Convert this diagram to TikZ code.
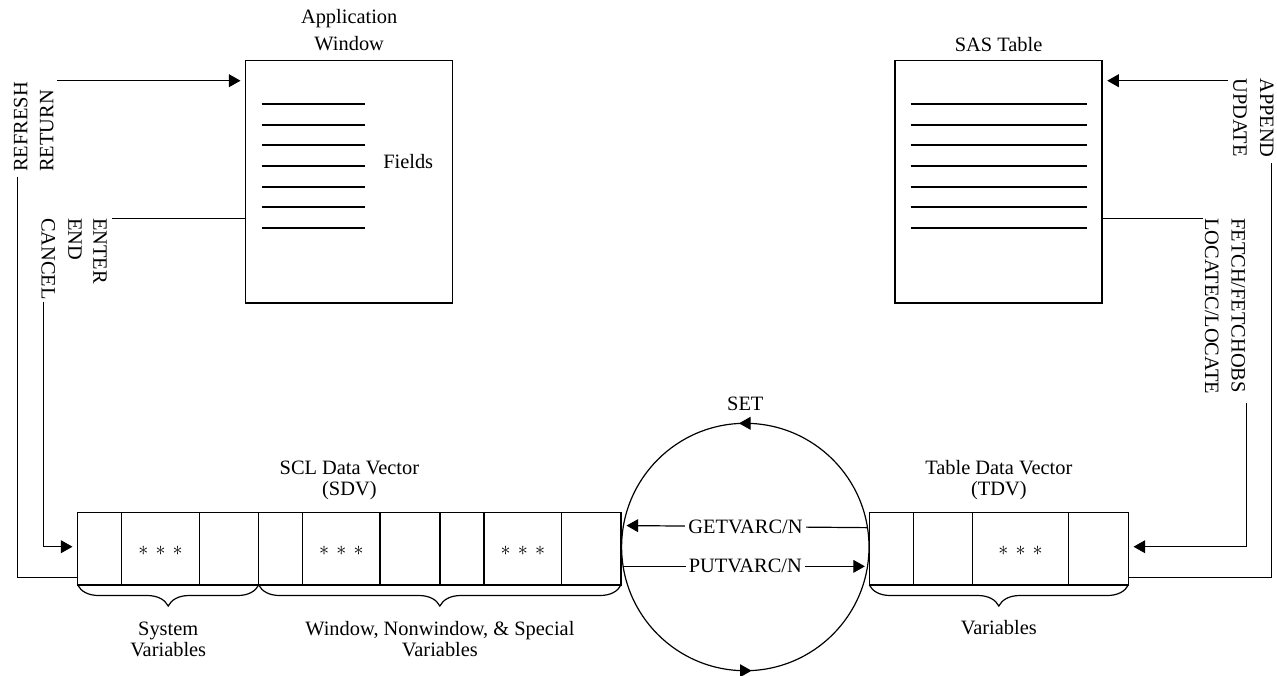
\documentclass[tikz,border=0pt]{standalone}
\usepackage{fontspec}
\setmainfont{Liberation Serif}
\usetikzlibrary{arrows.meta,decorations.pathreplacing,calc}
\newcommand{\astrow}{$\ast$\hspace{3.6pt}$\ast$\hspace{3.6pt}$\ast$}
\begin{document}
\begin{tikzpicture}[x=0.5pt,y=-0.5pt,
  every node/.style={font=\fontsize{10.2}{13.7}\selectfont, inner sep=0pt, outer sep=0pt},
  wire/.style={line width=0.6pt},
  arr/.style={wire, -{Triangle[length=5.8pt,width=6.4pt]}, shorten >=2.6pt},
  boxst/.style={draw, line width=0.6pt, rectangle},
  fieldline/.style={line width=0.85pt},
  brc/.style={line width=0.6pt, decorate, decoration={brace, amplitude=10.5pt}},
  tight/.style={font=\fontsize{10.2}{10.85}\selectfont},
  onwire/.style={fill=white, inner xsep=1.5pt, inner ysep=0pt}
]
\useasboundingbox (0,0) rectangle (1277,675);

% ---- main boxes
\node[boxst, minimum width=103.5pt, minimum height=121.35pt] (appwin) at (349.2,181.65) {};
\node[boxst, minimum width=103.5pt, minimum height=121.35pt] (sastab) at (998.5,181.65) {};
\node[boxst, minimum width=271.65pt, minimum height=36.15pt] (sdv) at (349.35,548.85) {};
\node[boxst, minimum width=129.5pt, minimum height=36.15pt] (tdv) at (998.8,548.85) {};
\node[circle, draw, line width=0.6pt, minimum size=123.7pt] (loop) at (745.3,547) {};

% ---- field lines
\foreach \y in {104.3,124.7,145.3,166,186.7,207.3,228.3} {
  \draw[fieldline] (261.7,\y) -- (365,\y);
  \draw[fieldline] (910.7,\y) -- (1086.7,\y);
}

% ---- cells
\foreach \x in {121.7,199.3,258.7,302.7,380,440,484,561.7}
  \draw[wire] (\x,512.7) -- (\x,585);
\foreach \x in {913.3,972.7,1068.3}
  \draw[wire] (\x,512.7) -- (\x,585);
\node (ast1) at (160.5,550.7) {\astrow};
\node (ast2) at (341.4,550.7) {\astrow};
\node (ast3) at (522.9,550.7) {\astrow};
\node (ast4) at (1020.5,550.7) {\astrow};

% ---- braces
\draw[brc] (258.7,585) -- (sdv.south west);
\draw[brc] (sdv.south east) -- (258.7,585);
\draw[brc] (tdv.south east) -- (tdv.south west);

% ---- labels (base anchor = baseline of the last line)
\node[anchor=base, align=center] (awlbl) at (349.2,50.7) {Application\\Window};
\node[anchor=base] (saslbl) at (998.5,51) {SAS Table};
\node[anchor=base west] (fields) at (383.3,168.3) {Fields};
\node[anchor=base, align=center, tight] (sdvlbl) at (349.35,495.7) {SCL Data Vector\\(SDV)};
\node[anchor=base, align=center, tight] (tdvlbl) at (998.8,495.7) {Table Data Vector\\(TDV)};
\node[anchor=base] (setlbl) at (745.3,410) {SET};
\node[anchor=base, align=center, tight] (syslbl) at (168.2,656.7) {System\\Variables};
\node[anchor=base, align=center, tight] (wnslbl) at (439.9,656.7) {Window, Nonwindow, \& Special\\Variables};
\node[anchor=base] (varlbl) at (998.8,634) {Variables};

% ---- rotated labels
\node[rotate=90, anchor=base west] (refresh) at (27.3,171.7) {REFRESH};
\node[rotate=90, anchor=base west] (return) at (53.3,171.7) {RETURN};
\node[rotate=-90, anchor=base west] (enter) at (93.3,218.3) {ENTER};
\node[rotate=-90, anchor=base west] (endlbl) at (68.3,218.3) {END};
\node[rotate=-90, anchor=base west] (cancel) at (41.7,218.3) {CANCEL};
\node[rotate=-90, anchor=base west] (update) at (1233.3,78.3) {UPDATE};
\node[rotate=-90, anchor=base west] (append) at (1260,78.3) {APPEND};
\node[rotate=-90, anchor=base west] (fetch) at (1231.7,218.3) {FETCH/FETCHOBS};
\node[rotate=-90, anchor=base west] (locate) at (1205,218.3) {LOCATEC/LOCATE};

% ---- connector ends
\coordinate (refreshend) at (17.7,176.7);
\coordinate (returnend) at (57.3,80.7);
\coordinate (enterend) at (112.3,218.3);
\coordinate (cancelend) at (43.3,301.7);
\coordinate (updateend) at (1228.3,80.7);
\coordinate (appendend) at (1271.7,163);
\coordinate (locateend) at (1202.7,218.3);
\coordinate (fetchend) at (1246.7,403);

% ---- connectors left
\draw[wire] (refreshend) |- ([yshift=3.85pt]sdv.south west);
\draw[arr] (returnend) -- (returnend -| appwin.west);
\draw[wire] (appwin.west |- enterend) -- (enterend);
\draw[arr] (cancelend) |- ([yshift=1.07pt]sdv.west);

% ---- connectors right
\draw[arr] (updateend) -- (updateend -| sastab.east);
\draw[wire] (appendend) |- ([yshift=3.85pt]tdv.south east);
\draw[wire] (sastab.east |- locateend) -- (locateend);
\draw[arr] (fetchend) |- ([yshift=1.07pt]tdv.east);

% ---- circle traffic
\draw[arr, shorten >=1.5pt] (loop.9.77) -- node[onwire] (getlbl) {GETVARC/N} (loop.170.23);
\draw[arr, shorten >=1.3pt] (loop.189.16) -- node[onwire] (putlbl) {PUTVARC/N} (loop.-9.16);
\draw[arr, shorten >=0pt] ([xshift=2.6pt]loop.north) -- ([xshift=-3.15pt]loop.north);
\draw[arr, shorten >=0pt] ([xshift=-2.6pt]loop.south) -- ([xshift=3.15pt]loop.south);
\end{tikzpicture}
\end{document}
